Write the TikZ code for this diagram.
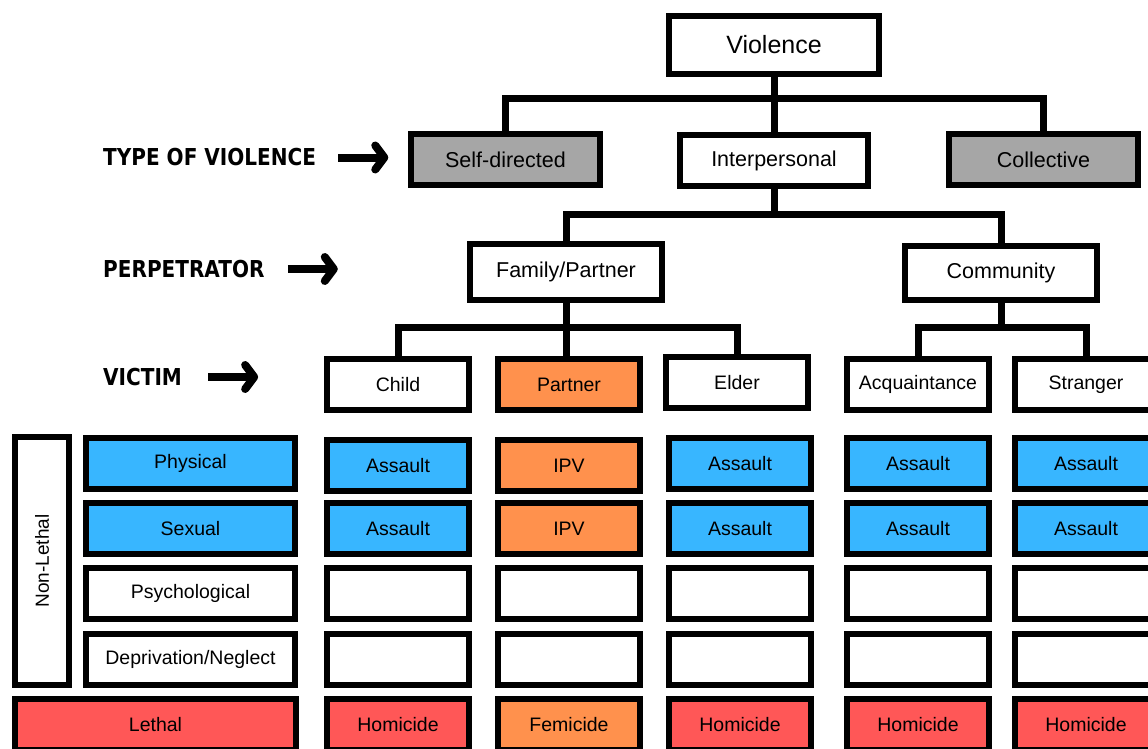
\documentclass[tikz,border=0pt]{standalone}
\usepackage{fontspec}
\setmainfont{Liberation Sans}
\newfontfamily\headfont{DejaVu Sans}
\usetikzlibrary{arrows.meta}

\definecolor{boxblue}{HTML}{38B6FF}
\definecolor{boxorange}{HTML}{FF914D}
\definecolor{boxred}{HTML}{FF5757}
\definecolor{boxgrey}{HTML}{A6A6A6}

\begin{document}
\begin{tikzpicture}[x=1pt, y=-1pt,
    box/.style={draw=black, line width=6pt, fill=white, inner sep=0pt,
        minimum width=142pt, minimum height=51pt, font=\fontsize{19.5}{23}\selectfont},
    toplevel/.style={box, minimum width=189pt, font=\fontsize{21.5}{26}\selectfont},
    rowlabel/.style={box, minimum width=209pt},
    heading/.style={anchor=west, inner sep=0pt, font=\headfont\bfseries\fontsize{23.3}{28}\selectfont},
    conn/.style={line width=7pt},
    bigarrow/.style={line width=8pt, -{Straight Barb[length=9pt, width=24pt, round]}}]
        \useasboundingbox (0,0) rectangle (1148,749);

        % Headings on the left
        \node[heading] (typelbl) at (103,157.5) {\scalebox{0.86}[1]{TYPE OF VIOLENCE}};
        \node[heading] (perplbl) at (103,269) {\scalebox{0.86}[1]{PERPETRATOR}};
        \node[heading] (victlbl) at (103,377) {\scalebox{0.86}[1]{VICTIM}};
        \draw[bigarrow] ([xshift=22pt]typelbl.east) -- ++(50,0);
        \draw[bigarrow] ([xshift=23pt]perplbl.east) -- ++(50,0);
        \draw[bigarrow] ([xshift=26pt]victlbl.east) -- ++(50,0);

        % Tree
        \node[box, minimum width=210pt, minimum height=58pt, font=\fontsize{25}{30}\selectfont] (violence) at (774,45) {Violence};
        \node[toplevel, fill=boxgrey] (selfdir) at (505.5,159.5) {Self-directed};
        \node[toplevel, minimum width=188pt] (interp) at (774,160.5) {Interpersonal};
        \node[toplevel, fill=boxgrey] (collective) at (1043.5,159.5) {Collective};
        \node[toplevel, minimum width=192pt, minimum height=56pt] (family) at (566,272) {Family/Partner};
        \node[toplevel, minimum width=192pt, minimum height=54pt] (community) at (1001,273) {Community};
        \node[box] (child) at (398,384.5) {Child};
        \node[box, fill=boxorange] (partner) at (569,384.5) {Partner};
        \node[box] (elder) at (737,382.5) {Elder};
        \node[box] (acq) at (918,384.5) {Acquaintance};
        \node[box] (stranger) at (1086,384.5) {Stranger};

        \coordinate (bus1) at (774,99);
        \coordinate (bus2) at (774,214);
        \coordinate (bus3) at (566,327);
        \coordinate (bus4) at (1001,327);
        \draw[conn] (violence.south) -- (bus1);
        \draw[conn] (selfdir.north) |- (bus1) -| (collective.north);
        \draw[conn] (bus1) -- (interp.north);
        \draw[conn] (interp.south) -- (bus2);
        \draw[conn] (family.north) |- (bus2) -| (community.north);
        \draw[conn] (family.south) -- (bus3);
        \draw[conn] (child.north) |- (bus3) -| (elder.north);
        \draw[conn] (bus3) -- (bus3 |- partner.north);
        \draw[conn] (community.south) -- (bus4);
        \draw[conn] (acq.north) |- (bus4) -| (stranger.north);

        % Forms of violence
        \node[box, minimum width=54pt, minimum height=248pt] (nonlethal) at (42,561) {};
        \node[rotate=90, font=\fontsize{19}{23}\selectfont] (nonlethaltxt) at (nonlethal) {Non-Lethal};
        \node[rowlabel, fill=boxblue] (physical) at (190.5,463.5) {Physical};
        \node[rowlabel, fill=boxblue] (sexual) at (190.5,528.5) {Sexual};
        \node[rowlabel] (psych) at (190.5,593.5) {Psychological};
        \node[rowlabel] (neglect) at (190.5,659.5) {Deprivation/Neglect};
        \node[box, fill=boxred, minimum width=281pt] (lethal) at (155.5,724.5) {Lethal};

        % Child
        \node[box, fill=boxblue] (childphys) at (398,465.5) {Assault};
        \node[box, fill=boxblue] (childsex) at (398,528.5) {Assault};
        \node[box] (childpsych) at (398,593.5) {};
        \node[box] (childneg) at (398,659.5) {};
        \node[box, fill=boxred] (childleth) at (398,724.5) {Homicide};

        % Partner
        \node[box, fill=boxorange] (partphys) at (569,465.5) {IPV};
        \node[box, fill=boxorange] (partsex) at (569,528.5) {IPV};
        \node[box] (partpsych) at (569,593.5) {};
        \node[box] (partneg) at (569,659.5) {};
        \node[box, fill=boxorange] (partleth) at (569,724.5) {Femicide};

        % Elder
        \node[box, fill=boxblue] (elderphys) at (740,463.5) {Assault};
        \node[box, fill=boxblue] (eldersex) at (740,528.5) {Assault};
        \node[box] (elderpsych) at (740,593.5) {};
        \node[box] (elderneg) at (740,659.5) {};
        \node[box, fill=boxred] (elderleth) at (740,724.5) {Homicide};

        % Acquaintance
        \node[box, fill=boxblue] (acqphys) at (918,463.5) {Assault};
        \node[box, fill=boxblue] (acqsex) at (918,528.5) {Assault};
        \node[box] (acqpsych) at (918,593.5) {};
        \node[box] (acqneg) at (918,659.5) {};
        \node[box, fill=boxred] (acqleth) at (918,724.5) {Homicide};

        % Stranger
        \node[box, fill=boxblue] (strphys) at (1086,463.5) {Assault};
        \node[box, fill=boxblue] (strsex) at (1086,528.5) {Assault};
        \node[box] (strpsych) at (1086,593.5) {};
        \node[box] (strneg) at (1086,659.5) {};
        \node[box, fill=boxred] (strleth) at (1086,724.5) {Homicide};
    \end{tikzpicture}
\end{document}
